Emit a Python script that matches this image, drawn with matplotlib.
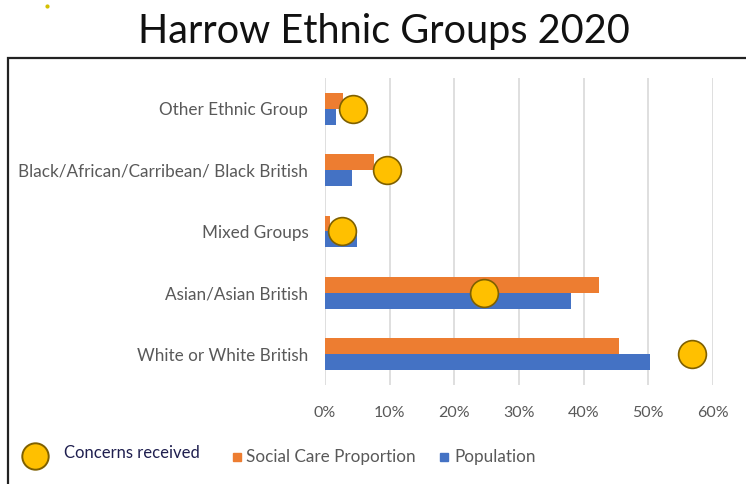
import matplotlib.pyplot as plt
from matplotlib.patches import Rectangle
from matplotlib.lines import Line2D
import numpy as np

plt.rcParams['font.family'] = ['Lato', 'DejaVu Sans']

# dados (de baixo para cima)
groups = ['White or White British', 'Asian/Asian British', 'Mixed Groups',
          'Black/African/Carribean/ Black British', 'Other Ethnic Group']
social_care = [45.5, 42.4, 0.8, 7.6, 2.8]
population = [50.3, 38.1, 5.0, 4.2, 1.7]
concerns = [56.8, 24.6, 2.7, 9.6, 4.4]
xticks = [0, 10, 20, 30, 40, 50, 60]

orange = '#ED7D31'
blue = '#4472C4'
gold = '#FFC000'
grey_txt = '#595959'

fig = plt.figure(figsize=(7.46, 4.84), dpi=100)
W, H = 746, 484

# caixa em volta do grafico
fig.add_artist(Rectangle((8 / W, -0.2), 1.0, 1.2 - 58 / H, transform=fig.transFigure,
                         fill=False, edgecolor='#222222', lw=1.6, clip_on=False))

fig.text(384 / W, 1 - 31 / H, 'Harrow Ethnic Groups 2020', ha='center', va='center',
         fontsize=28.5, color='#111111')

ax = fig.add_axes([325 / W, 1 - 385 / H, 388 / W, 307 / H])
y = np.arange(len(groups))
h = 0.26
ax.barh(y + h / 2, social_care, height=h, color=orange, zorder=2)
ax.barh(y - h / 2, population, height=h, color=blue, zorder=2)
ax.plot(concerns, y, 'o', ms=20, mfc=gold, mec='#7F6000', mew=1.2, zorder=3, clip_on=False)

ax.set_xlim(0, 60)
ax.set_ylim(-0.5, 4.5)
ax.set_xticks(xticks)
ax.set_xticklabels([f'{t}%' for t in xticks])
ax.set_yticks(y)
ax.set_yticklabels(groups)
ax.tick_params(length=0, labelsize=12.3, colors=grey_txt)
ax.tick_params(axis='x', labelsize=11.5, pad=15)
ax.tick_params(axis='y', pad=12)
ax.grid(axis='x', color='#D9D9D9', lw=1.2, zorder=0)
for s in ax.spines.values():
    s.set_visible(False)

# legenda manual
fig.add_artist(Line2D([35 / W], [1 - 456 / H], marker='o', ms=19, mfc=gold, mec='#7F6000',
                      mew=1.4, transform=fig.transFigure))
fig.text(64 / W, 1 - 453 / H, 'Concerns received', va='center', fontsize=12, color='#1F1F4F')
fig.add_artist(Rectangle((233 / W, 1 - 461 / H), 8 / W, 8 / H, color=orange,
                         transform=fig.transFigure))
fig.text(246 / W, 1 - 457 / H, 'Social Care Proportion', va='center', fontsize=12.3, color=grey_txt)
fig.add_artist(Rectangle((440 / W, 1 - 461 / H), 8 / W, 8 / H, color=blue,
                         transform=fig.transFigure))
fig.text(454 / W, 1 - 457 / H, 'Population', va='center', fontsize=12.3, color=grey_txt)

# pontinho amarelo no canto
fig.add_artist(Line2D([47 / W], [1 - 6 / H], marker='o', ms=2, color='#D4C000',
                      transform=fig.transFigure))

fig.savefig('out.png', dpi=100)
